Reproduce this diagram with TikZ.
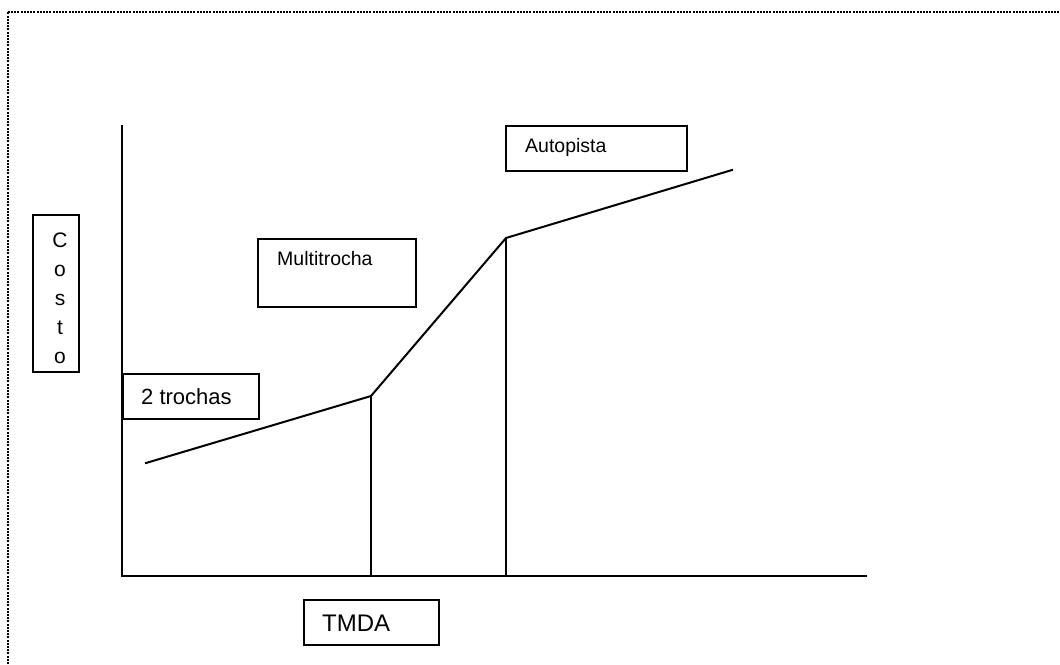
\documentclass[tikz,border=0pt]{standalone}
\usepackage{fontspec}
\setmainfont{Liberation Sans}
\begin{document}
\begin{tikzpicture}[x=1pt,y=-1pt,
  ln/.style={line width=2pt, line cap=rect},
  box/.style={draw, line width=2pt, rectangle, inner sep=0pt, anchor=north west},
  lbl/.style={inner sep=0pt, anchor=west},
  frame/.style={line width=2pt, dash pattern=on 2pt off 1.2pt}]
\useasboundingbox (0,0) rectangle (1060,664);
% dotted frame
\coordinate (fbl) at (7.5,664);
\coordinate (ftl) at (7.5,11.5);
\coordinate (ftr) at (1060,11.5);
\draw[frame] (fbl) -- (ftl) -- (ftr);
% axes
\coordinate (O) at (122,576);
\coordinate (ytop) at (122,126);
\coordinate (xend) at (866,576);
\draw[ln] (ytop) -- (O) -- (xend);
% cost curve
\coordinate (p1) at (146,463);
\coordinate (p2) at (371,396);
\coordinate (p3) at (506,238);
\coordinate (p4) at (732,170);
\coordinate (f2) at (371,576);
\coordinate (f3) at (506,576);
\draw[ln, line join=miter] (p1) -- (p2) -- (p3) -- (p4);
\draw[ln] (p2) -- (f2);
\draw[ln] (p3) -- (f3);
% boxes
\node[box, minimum width=46, minimum height=157] (costobox) at (32,214) {};
\node[inner sep=0pt, align=center, font=\fontsize{21}{29}\selectfont] (costo) at (60,298) {C\\o\\s\\t\\o};
\node[box, minimum width=136, minimum height=45] (b2t) at (122,373) {};
\node[lbl, font=\fontsize{22}{26}\selectfont] (t2t) at (141,397) {2 trochas};
\node[box, minimum width=158, minimum height=68] (bmt) at (257,238) {};
\node[lbl, font=\fontsize{19.5}{23}\selectfont] (tmt) at (277,259) {Multitrocha};
\node[box, minimum width=181, minimum height=45] (bap) at (505,125) {};
\node[lbl, font=\fontsize{19.5}{23}\selectfont] (tap) at (525,147) {Autopista};
\node[box, minimum width=135, minimum height=45] (btm) at (303,599) {};
\node[lbl, font=\fontsize{24}{28}\selectfont] (ttm) at (322,623) {TMDA};
\end{tikzpicture}
\end{document}
